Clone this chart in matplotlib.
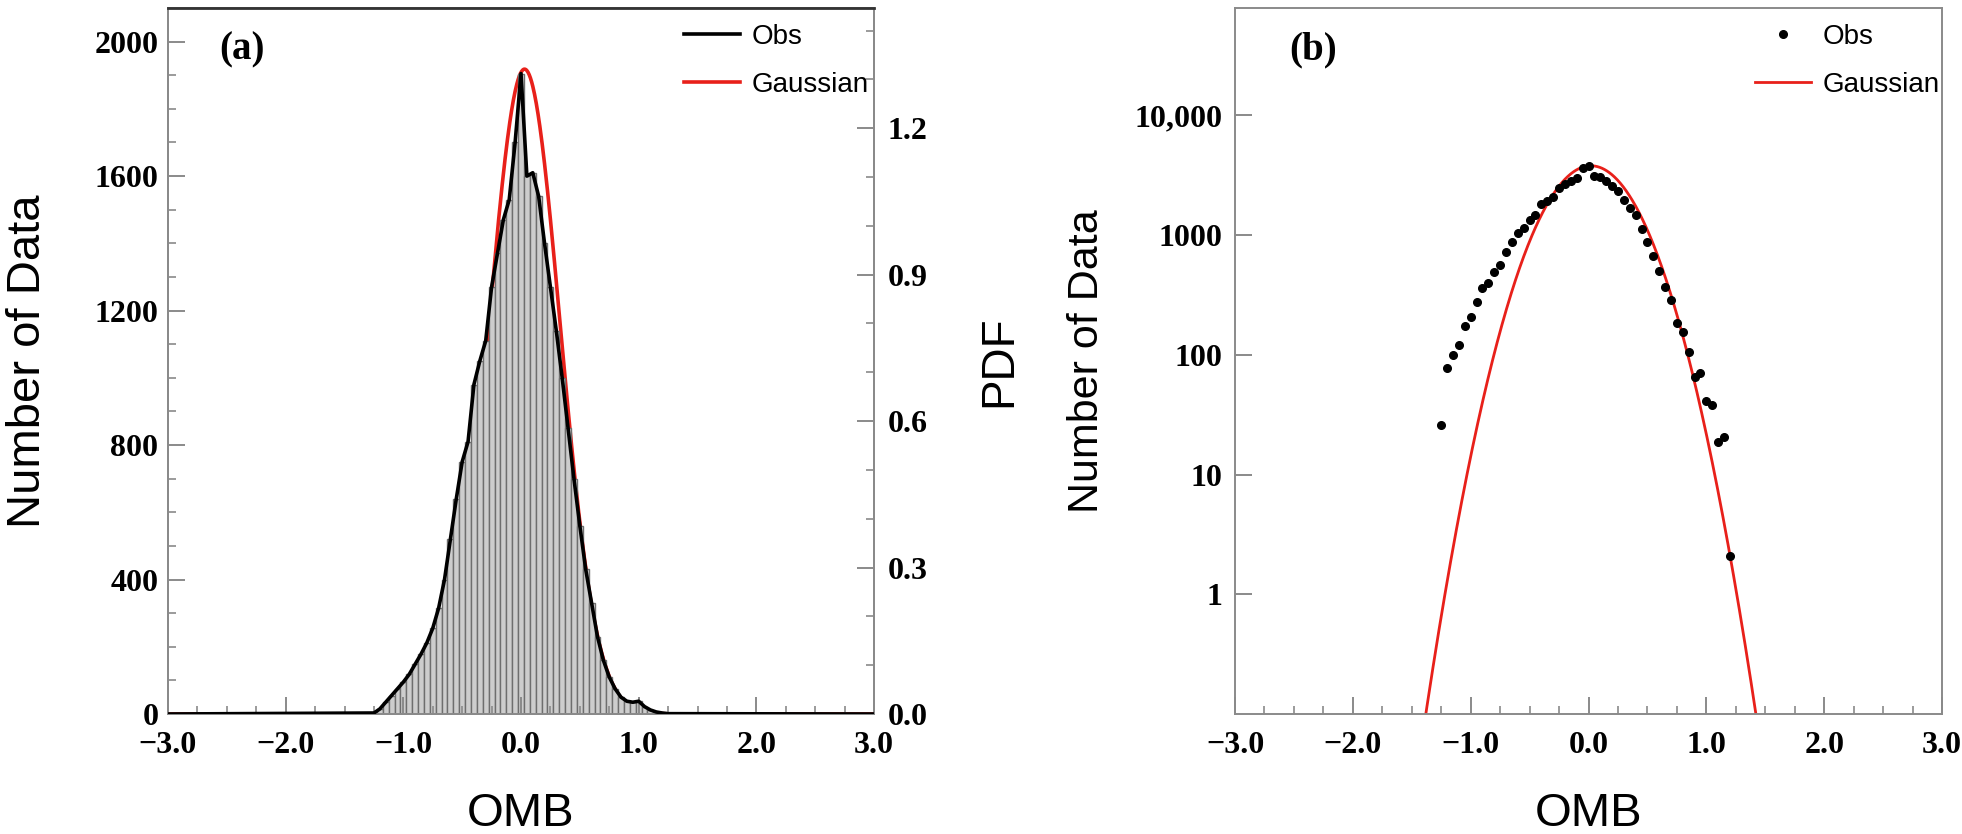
import numpy as np
import matplotlib
matplotlib.use('Agg')
import matplotlib.pyplot as plt
from matplotlib.ticker import MultipleLocator, FixedLocator, NullLocator, FixedFormatter

# ---------------- data ----------------
# panel (a): histogram of OMB (bin width 0.05)
bin_width = 0.05
bin_centers = [-1.25, -1.20, -1.15, -1.10, -1.05, -1.00, -0.95, -0.90, -0.85, -0.80,
               -0.75, -0.70, -0.65, -0.60, -0.55, -0.50, -0.45, -0.40, -0.35, -0.30,
               -0.25, -0.20, -0.15, -0.10, -0.05, 0.00, 0.05, 0.10, 0.15, 0.20,
               0.25, 0.30, 0.35, 0.40, 0.45, 0.50, 0.55, 0.60, 0.65, 0.70,
               0.75, 0.80, 0.85, 0.90, 0.95, 1.00, 1.05, 1.10, 1.15, 1.20, 1.25]
obs_counts = [3, 15, 35, 55, 75, 95, 118, 148, 178, 212,
              255, 315, 400, 520, 640, 750, 810, 980, 1050, 1110,
              1270, 1370, 1470, 1530, 1700, 1905, 1600, 1610, 1540, 1400,
              1270, 1140, 1000, 850, 700, 560, 430, 330, 230, 160,
              110, 75, 50, 38, 35, 38, 22, 12, 6, 3, 1]
obs_range = [-3.0, 3.0]          # Obs line continues at zero over the whole axis

# Gaussian fit parameters
gauss_mean_a = 0.03
gauss_sigma_a = 0.302
counts_per_pdf = 1452.0          # N * bin width (left axis / right axis)

# panel (b): Obs counts on log scale
pts_x = [-1.25, -1.20, -1.15, -1.10, -1.05, -1.00, -0.95, -0.90, -0.85, -0.80,
         -0.75, -0.70, -0.65, -0.60, -0.55, -0.50, -0.45, -0.40, -0.35, -0.30,
         -0.25, -0.20, -0.15, -0.10, -0.05, 0.00, 0.05, 0.10, 0.15, 0.20,
         0.25, 0.30, 0.35, 0.40, 0.45, 0.50, 0.55, 0.60, 0.65, 0.70,
         0.75, 0.80, 0.85, 0.90, 0.95, 1.00, 1.05, 1.10, 1.15, 1.20]
pts_y = [26, 77, 100, 121, 173, 209, 275, 360, 402, 497,
         565, 720, 873, 1037, 1142, 1341, 1476, 1811, 1933, 2100,
         2464, 2662, 2838, 3027, 3667, 3808, 3143, 3085, 2838, 2578,
         2344, 1972, 1699, 1476, 1130, 873, 676, 504, 372, 285,
         184, 154, 105, 65, 71, 41, 38, 18.6, 20.6, 2.1]
gauss_mean_b = 0.02
gauss_sigma_b = 0.305
gauss_peak_b = 3800.0

x_ticks = [-3.0, -2.0, -1.0, 0.0, 1.0, 2.0, 3.0]
x_ticklabels = ['\u22123.0', '\u22122.0', '\u22121.0', '0.0', '1.0', '2.0', '3.0']
a_left_ticks = [0, 400, 800, 1200, 1600, 2000]
a_right_ticks = [0.0, 0.3, 0.6, 0.9, 1.2]
b_y_ticks = [1, 10, 100, 1000, 10000]
b_y_ticklabels = ['1', '10', '100', '1000', '10,000']

# ---------------- style ----------------
W, H = 1962, 834
SERIF = 'Liberation Serif'
SANS = 'Liberation Sans'
TICKFS = 23
spine_col = '#8a8a8a'
red = '#e8201a'

fig = plt.figure(figsize=(W / 100, H / 100), dpi=100)


def rect(l, r, t, b):
    return [l / W, 1 - b / H, (r - l) / W, (b - t) / H]


def style_ticks(ax, axis='both'):
    ax.tick_params(axis=axis, which='major', direction='in', length=12, width=1.4,
                   color=spine_col)
    ax.tick_params(axis=axis, which='minor', direction='in', length=6, width=1.2,
                   color=spine_col)


def tick_font(ax):
    for lab in ax.get_xticklabels() + ax.get_yticklabels():
        lab.set_fontfamily(SERIF)
        lab.set_fontweight('bold')
        lab.set_fontsize(TICKFS)


xg = np.linspace(-3.0, 3.0, 1201)

# ---------------- panel (a) ----------------
ax1 = fig.add_axes(rect(168, 874, 8, 714))
ax1t = ax1.twinx()
ax1.set_zorder(ax1t.get_zorder() + 1)
ax1.patch.set_visible(False)

ax1.bar(bin_centers, obs_counts, width=bin_width, color='#cdcdcd',
        edgecolor='#6e6e6e', linewidth=1.0, zorder=1)
line_x = [obs_range[0]] + bin_centers + [obs_range[1]]
line_y = [0] + obs_counts + [0]
h_obs, = ax1.plot(line_x, line_y, color='black', lw=2.6, zorder=3, label='Obs')

pdf_a = np.exp(-(xg - gauss_mean_a) ** 2 / (2 * gauss_sigma_a ** 2)) / (gauss_sigma_a * np.sqrt(2 * np.pi))
h_gau, = ax1t.plot(xg, pdf_a, color=red, lw=2.6, label='Gaussian')

ax1.set_xlim(-3.0, 3.0)
ax1.set_ylim(0, 2100)
ax1t.set_ylim(0, 2100 / counts_per_pdf)

ax1.xaxis.set_major_locator(FixedLocator(x_ticks))
ax1.set_xticklabels(x_ticklabels)
ax1.xaxis.set_minor_locator(MultipleLocator(0.25))
ax1.yaxis.set_major_locator(FixedLocator(a_left_ticks))
ax1.yaxis.set_minor_locator(MultipleLocator(100))
ax1t.yaxis.set_major_locator(FixedLocator(a_right_ticks))
ax1t.yaxis.set_major_formatter(FixedFormatter(['%.1f' % v for v in a_right_ticks]))
ax1t.yaxis.set_minor_locator(MultipleLocator(0.1))

style_ticks(ax1)
style_ticks(ax1t)
ax1.tick_params(axis='x', which='both', top=False, bottom=True, pad=12)
ax1.tick_params(axis='y', which='both', left=True, right=False, pad=7)
ax1t.tick_params(axis='y', which='both', right=True, left=False, pad=10)
tick_font(ax1)
tick_font(ax1t)

for ax in (ax1, ax1t):
    for s in ax.spines.values():
        s.set_color(spine_col)
        s.set_linewidth(1.4)
ax1.spines['top'].set_color('#333333')
ax1.spines['top'].set_linewidth(2.0)

ax1.set_ylabel('Number of Data', fontsize=34, family=SANS, va='center', ha='center')
ax1.yaxis.set_label_coords((28 - 168) / 706, 0.5)
ax1t.set_ylabel('PDF', fontsize=33, family=SANS, rotation=90, va='center', ha='center')
ax1t.yaxis.set_label_coords((999 - 168) / 706, 0.5)
ax1.set_xlabel('OMB', fontsize=34, family=SANS, va='center')
ax1.xaxis.set_label_coords(0.5, -(814 - 714) / 706)

ax1.text((242 - 168) / 706, 1 - (50 - 8) / 706, '(a)', transform=ax1.transAxes,
         ha='center', va='center', fontsize=28, family=SERIF, fontweight='bold')

ax1.legend([h_obs, h_gau], ['Obs', 'Gaussian'], loc='upper left',
           bbox_to_anchor=(684 / W, 1 - 24 / H), bbox_transform=fig.transFigure,
           frameon=False, prop={'family': SANS, 'size': 20}, handlelength=2.0,
           handletextpad=0.45, labelspacing=0.8, borderpad=0, borderaxespad=0)

# ---------------- panel (b) ----------------
ax2 = fig.add_axes(rect(1235, 1942, 8, 714))
ax2.set_yscale('log')
h_pts, = ax2.plot(pts_x, pts_y, 'o', color='black', ms=5.5, label='Obs', zorder=3)
gauss_b = gauss_peak_b * np.exp(-(xg - gauss_mean_b) ** 2 / (2 * gauss_sigma_b ** 2))
h_gb, = ax2.plot(xg, gauss_b, color=red, lw=2.0, label='Gaussian', zorder=2)

ax2.set_xlim(-3.0, 3.0)
ax2.set_ylim(0.1, 79000)
ax2.xaxis.set_major_locator(FixedLocator(x_ticks))
ax2.set_xticklabels(x_ticklabels)
ax2.xaxis.set_minor_locator(MultipleLocator(0.25))
ax2.yaxis.set_major_locator(FixedLocator(b_y_ticks))
ax2.yaxis.set_major_formatter(FixedFormatter(b_y_ticklabels))
ax2.yaxis.set_minor_locator(NullLocator())

style_ticks(ax2)
ax2.tick_params(axis='x', which='both', top=False, bottom=True, pad=12)
ax2.tick_params(axis='y', which='both', left=True, right=False, pad=9)
tick_font(ax2)
for s in ax2.spines.values():
    s.set_color(spine_col)
    s.set_linewidth(1.4)

ax2.set_ylabel('Number of Data', fontsize=31, family=SANS, va='center', ha='center')
ax2.yaxis.set_label_coords((1087 - 1235) / 707, 0.5)
ax2.set_xlabel('OMB', fontsize=34, family=SANS, va='center')
ax2.xaxis.set_label_coords(0.5, -(814 - 714) / 706)

ax2.text((1313 - 1235) / 707, 1 - (50 - 8) / 706, '(b)', transform=ax2.transAxes,
         ha='center', va='center', fontsize=28, family=SERIF, fontweight='bold')

ax2.legend([h_pts, h_gb], ['Obs', 'Gaussian'], loc='upper left', numpoints=1,
           bbox_to_anchor=(1755 / W, 1 - 24 / H), bbox_transform=fig.transFigure,
           frameon=False, prop={'family': SANS, 'size': 20}, handlelength=2.0,
           handletextpad=0.45, labelspacing=0.8, borderpad=0, borderaxespad=0)

fig.savefig('out.png', dpi=100)
